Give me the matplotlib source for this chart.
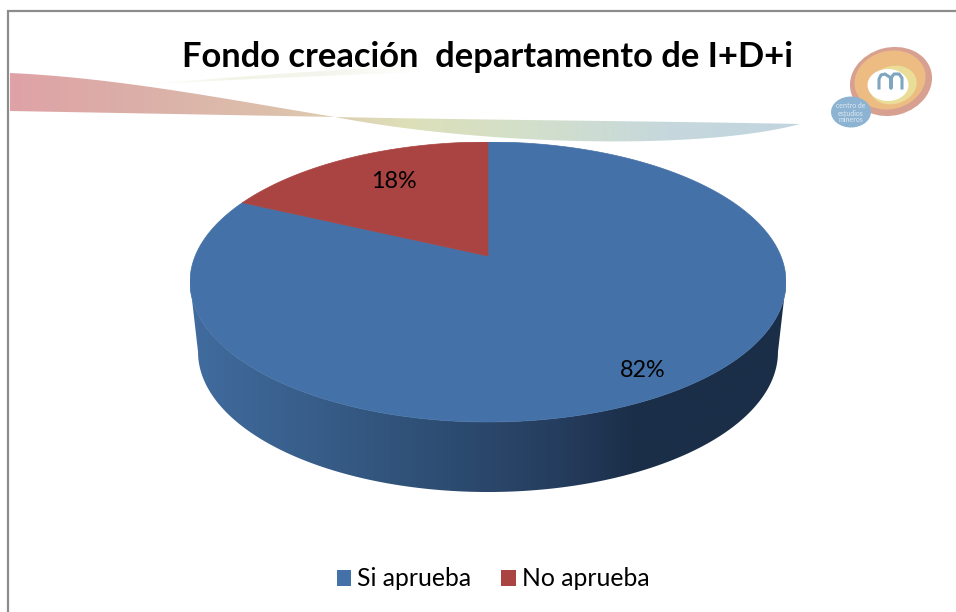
import numpy as np
import matplotlib
matplotlib.use("Agg")
import matplotlib.pyplot as plt
from matplotlib.colors import LinearSegmentedColormap
from matplotlib.patches import Ellipse, Patch, Polygon

# datos
categorias = ["Si aprueba", "No aprueba"]
valores = [82, 18]
etiquetas = ["82%", "18%"]
colores = ["#4471A7", "#A94442"]
titulo = "Fondo creación  departamento de I+D+i"

W, H = 956, 612
plt.rcParams['font.family'] = ['Lato', 'DejaVu Sans']

fig = plt.figure(figsize=(W / 100, H / 100), dpi=100, facecolor="white")

# capa de fondo en pixeles: marco, cinta y logo
bg = fig.add_axes([0, 0, 1, 1])
bg.set_xlim(0, W)
bg.set_ylim(H, 0)
bg.axis("off")
bg.plot([8, 8, W], [H, 11, 11], color="#8c8c8c", lw=1.6, solid_joinstyle="miter")


def bezier(p0, p1, p2, p3, n=80):
    s = np.linspace(0, 1, n)[:, None]
    p0, p1, p2, p3 = map(np.array, (p0, p1, p2, p3))
    return (1 - s) ** 3 * p0 + 3 * (1 - s) ** 2 * s * p1 + 3 * (1 - s) * s ** 2 * p2 + s ** 3 * p3


def banda(ax, puntos, cmap):
    # rellena un contorno con degradado horizontal
    poly = Polygon(puntos, closed=True, fc="none", ec="none")
    ax.add_patch(poly)
    im = ax.imshow(np.linspace(0, 1, 256).reshape(1, -1), cmap=cmap, aspect="auto",
                   extent=(puntos[:, 0].min(), puntos[:, 0].max(), H, 0), zorder=1)
    im.set_clip_path(poly)


cinta = LinearSegmentedColormap.from_list(
    "cinta", ["#DFA2A6", "#DBB0A8", "#DDC0AC", "#DDDFB8", "#D2DFCC", "#C6D8DC", "#C2D5E0"])
contorno = np.vstack([
    bezier((10, 73), (120, 78), (230, 100), (335, 117)),
    bezier((335, 117), (480, 120), (650, 121), (800, 124)),
    bezier((800, 124), (700, 151), (480, 145), (335, 117)),
    bezier((335, 117), (230, 115), (120, 113), (10, 111)),
])
banda(bg, contorno, cinta)
palido = LinearSegmentedColormap.from_list("palido", ["#FFFFFF", "#F3F4E8", "#F4F5EC", "#FFFFFF"])
banda(bg, np.vstack([bezier((140, 85), (220, 78), (320, 70), (420, 66)),
                     bezier((420, 72), (320, 76), (220, 80), (140, 85))]), palido)

# logo
bg.add_patch(Ellipse((891, 81.5), 83, 68, angle=-15, fc="#D8A091", ec="none", zorder=3))
bg.add_patch(Ellipse((890, 80), 72, 58, angle=-15, fc="#ECBC82", ec="none", zorder=3))
bg.add_patch(Ellipse((893, 85), 48, 38, angle=-15, fc="#E9DD98", ec="none", zorder=3))
bg.add_patch(Ellipse((888, 85), 41, 32, fc="white", ec="none", zorder=3))
bg.plot([879, 879, 881, 885, 891, 891, 891, 894, 899, 902, 902],
        [88, 79, 75, 74, 78, 88, 78, 74, 74, 78, 88],
        color="#7FA5BF", lw=2.2, zorder=4)
bg.add_patch(Ellipse((851, 112), 40, 31, fc="#8DB3D3", ec="none", zorder=3))
for txt, yy in zip(["centro de", "estudios", "mineros"], [106, 113, 120]):
    bg.text(851, yy, txt, fontsize=5, color="#DDE9F2", ha="center", va="center", zorder=4)

bg.text(488, 57, titulo, fontsize=24.8, fontweight="bold", color="black",
        ha="center", va="center", zorder=5)

# torta en perspectiva: la elipse superior ocupa de -1 a 1 en cada eje
cx, cy, rx, ry = 488, 282, 298, 140
alto = 70 / ry
ax = fig.add_axes([(cx - rx) / W, 1 - (cy + ry + 70) / H, 2 * rx / W, (2 * ry + 70) / H])
ax.axis("off")
ax.patch.set_alpha(0)

k = 26 / ry  # el vertice de la torta queda sobre el centro de la elipse


def proyecta(t):
    u, v = np.cos(t), np.sin(t)
    d = 1 + k * v
    return u * np.sqrt(1 - k ** 2) / d, (v + k) / d


# lateral con degradado, la base se ve algo mas angosta
tt = np.linspace(np.pi, 2 * np.pi, 300)
xs, ys = np.cos(tt), np.sin(tt)
lado = np.concatenate([np.column_stack([xs, ys]),
                       np.column_stack([xs[::-1] * 0.973, ys[::-1] - alto])])
poly = Polygon(lado, closed=True, fc="none", ec="none")
ax.add_patch(poly)
lateral = LinearSegmentedColormap.from_list(
    "lateral", [(0, "#416C9F"), (0.35, "#31537A"), (0.62, "#253D5E"),
                (0.75, "#1B2E48"), (1, "#1B2E48")])
im = ax.imshow(np.linspace(0, 1, 256).reshape(1, -1), cmap=lateral, aspect="auto",
               extent=(-1, 1, -1 - alto, 1), zorder=1)
im.set_clip_path(poly)
ax.set_xlim(-1, 1)
ax.set_ylim(-1 - alto, 1)

# cara superior: rebanadas desde los valores, empezando arriba en sentido horario
acum = np.pi / 2
handles = []
for val, col, cat in zip(valores, colores, categorias):
    fin = acum - 2 * np.pi * val / sum(valores)
    px, py = proyecta(np.linspace(acum, fin, 300))
    ax.fill(np.r_[0, px], np.r_[k, py], fc=col, ec=col, lw=0.5, zorder=2)
    handles.append(Patch(facecolor=col, label=cat))
    acum = fin

ax.text(0.52, -0.635, etiquetas[0], fontsize=16.8, ha="center", va="center", zorder=5)
ax.text(-0.315, 0.715, etiquetas[1], fontsize=16.8, ha="center", va="center", zorder=5)

fig.legend(handles=handles, loc="center", bbox_to_anchor=(493 / W, 1 - 579 / H), ncol=2,
           frameon=False, fontsize=17.8, handlelength=0.6, handleheight=0.6,
           handletextpad=0.24, columnspacing=1.2, labelspacing=0, borderpad=0)

fig.savefig("out.png", dpi=100, facecolor="white")
